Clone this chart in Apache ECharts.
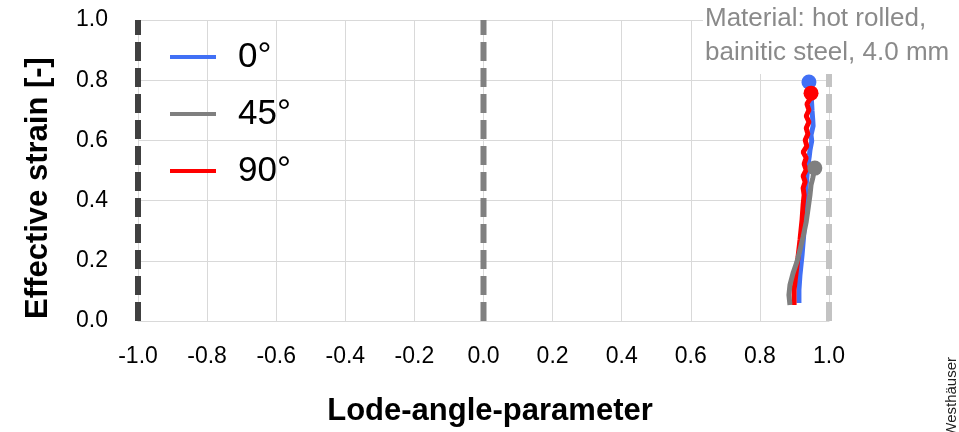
<!DOCTYPE html>
<html>
<head>
<meta charset="utf-8">
<script src="https://cdn.jsdelivr.net/npm/echarts@6/dist/echarts.min.js"></script>
<style>
  html, body { margin: 0; padding: 0; background: #fff; }
  #chart { width: 959px; height: 432px; }
</style>
</head>
<body>
<div id="chart"></div>
<script>
// Orientation labels (legend order)
const angleLabels = ['0°', '45°', '90°'];

// Lode-angle-parameter vs. effective strain, one path per orientation
const path0 = [
  [0.913, 0.060], [0.913, 0.103], [0.916, 0.153], [0.922, 0.219],
  [0.928, 0.302], [0.931, 0.385], [0.934, 0.452], [0.939, 0.518],
  [0.943, 0.548], [0.945, 0.568], [0.950, 0.598], [0.948, 0.618],
  [0.954, 0.648], [0.953, 0.668], [0.951, 0.698], [0.950, 0.718],
  [0.948, 0.751], [0.942, 0.794]
];
const path45 = [
  [0.887, 0.053], [0.884, 0.086], [0.887, 0.120], [0.896, 0.159],
  [0.907, 0.196], [0.916, 0.236], [0.925, 0.279], [0.934, 0.329],
  [0.939, 0.369], [0.945, 0.419], [0.948, 0.452], [0.953, 0.475],
  [0.959, 0.508]
];
const path90 = [
  [0.899, 0.053], [0.899, 0.103], [0.904, 0.153], [0.910, 0.209],
  [0.916, 0.269], [0.922, 0.336], [0.925, 0.385], [0.928, 0.419],
  [0.925, 0.442], [0.931, 0.462], [0.925, 0.482], [0.934, 0.502],
  [0.928, 0.522], [0.934, 0.542], [0.925, 0.561], [0.936, 0.581],
  [0.931, 0.601], [0.939, 0.621], [0.934, 0.641], [0.942, 0.661],
  [0.934, 0.681], [0.942, 0.701], [0.936, 0.721], [0.945, 0.738],
  [0.948, 0.757]
];

// Reference lines at the bounds and centre of the Lode-angle range
const refX = [-1, 0, 1];
const refY = [0, 1];

// Axis ticks
const xTicks = [-1.0, -0.8, -0.6, -0.4, -0.2, 0.0, 0.2, 0.4, 0.6, 0.8, 1.0];
const yTicks = [0.0, 0.2, 0.4, 0.6, 0.8, 1.0];

const colors = { '0°': '#4170f5', '45°': '#7f7f7f', '90°': '#ff0000' };
const refColors = ['#404040', '#808080', '#c3c3c3'];

const chart = echarts.init(document.getElementById('chart'), null, { renderer: 'canvas' });

function curve(name, data, z) {
  const last = data.length - 1;
  return {
    name: name,
    type: 'line',
    data: data,
    z: z,
    smooth: false,
    showSymbol: true,
    showAllSymbol: true,
    symbol: 'circle',
    symbolSize: function (v, p) { return p.dataIndex === last ? 15 : 0; },
    itemStyle: { color: colors[name] },
    lineStyle: { color: colors[name], width: 5 },
    emphasis: { disabled: true },
    animation: false
  };
}

const refSeries = refX.map(function (x, i) {
  return {
    type: 'line',
    data: refY.map(function (y) { return [x, y]; }),
    symbol: 'none',
    z: 1,
    silent: true,
    lineStyle: { color: refColors[i], width: 6, type: [19, 7] },
    animation: false
  };
});

chart.setOption({
  backgroundColor: '#ffffff',
  animation: false,
  grid: { left: 138, right: 130, top: 20, bottom: 111 },
  xAxis: {
    type: 'value',
    min: xTicks[0],
    max: xTicks[xTicks.length - 1],
    interval: 0.2,
    axisLine: { show: true, lineStyle: { color: '#d9d9d9', width: 1 } },
    axisTick: { show: false },
    splitLine: { show: true, lineStyle: { color: '#d9d9d9', width: 1 } },
    axisLabel: {
      color: '#000', fontFamily: 'Liberation Sans, Arial', fontSize: 23, margin: 24,
      formatter: function (v) { return v.toFixed(1); }
    }
  },
  yAxis: {
    type: 'value',
    min: yTicks[0],
    max: yTicks[yTicks.length - 1],
    interval: 0.2,
    axisLine: { show: false },
    axisTick: { show: false },
    splitLine: { show: true, lineStyle: { color: '#d9d9d9', width: 1 } },
    axisLabel: {
      color: '#000', fontFamily: 'Liberation Sans, Arial', fontSize: 23, margin: 30,
      formatter: function (v) { return v.toFixed(1); }
    }
  },
  legend: {
    data: angleLabels,
    orient: 'vertical',
    left: 170,
    top: 37,
    padding: 0,
    itemGap: 17,
    itemWidth: 46,
    itemHeight: 4,
    icon: 'rect',
    selectedMode: false,
    textStyle: {
      color: '#000', fontFamily: 'Liberation Sans, Arial', fontSize: 35,
      lineHeight: 40, padding: [0, 0, 0, 17]
    }
  },
  graphic: [
    {
      type: 'text', left: 703, top: 0, z: 50,
      style: {
        text: 'Material: hot rolled,\nbainitic steel, 4.0 mm',
        font: '26px "Liberation Sans", Arial', fill: '#8a8a8a',
        lineHeight: 34, backgroundColor: '#ffffff', padding: [2, 4, 4, 2]
      }
    },
    {
      type: 'text', x: 490, y: 411, z: 50,
      style: {
        text: 'Lode-angle-parameter', font: 'bold 31px "Liberation Sans", Arial',
        fill: '#000', textAlign: 'center', textVerticalAlign: 'middle'
      }
    },
    {
      type: 'text', x: 38, y: 188, rotation: Math.PI / 2, z: 50,
      style: {
        text: 'Effective strain [-]', font: 'bold 31px "Liberation Sans", Arial',
        fill: '#000', textAlign: 'center', textVerticalAlign: 'middle'
      }
    },
    {
      type: 'text', x: 952, y: 357, rotation: Math.PI / 2, z: 50,
      style: {
        text: 'Westhäuser', font: '15px "Liberation Sans", Arial',
        fill: '#222', textAlign: 'right', textVerticalAlign: 'middle'
      }
    }
  ],
  series: refSeries.concat([
    curve('0°', path0, 3),
    curve('90°', path90, 4),
    curve('45°', path45, 5)
  ])
});
</script>
</body>
</html>
